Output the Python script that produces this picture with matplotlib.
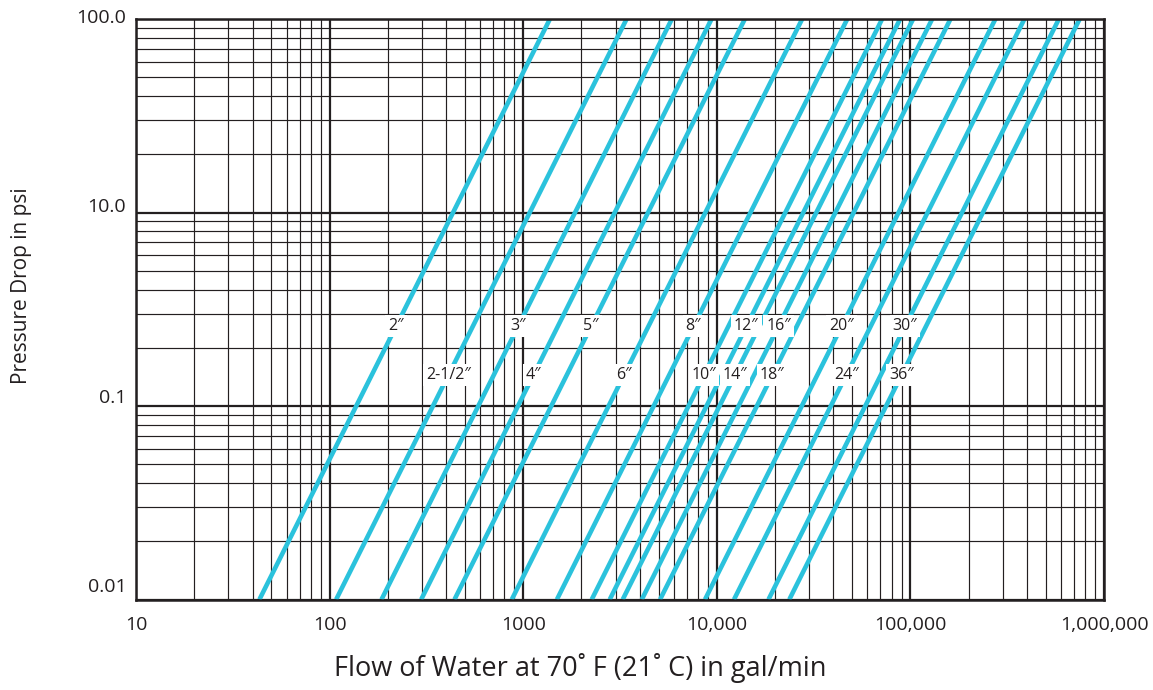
import numpy as np
import matplotlib
matplotlib.use("Agg")
import matplotlib.pyplot as plt
from matplotlib.ticker import FixedLocator, LogLocator, NullFormatter
from matplotlib.transforms import ScaledTranslation

plt.rcParams["font.family"] = ["Open Sans", "DejaVu Sans"]

# ---- data ----
pipe_sizes = ["2″", "2-1/2″", "3″", "4″", "5″", "6″", "8″", "10″",
              "12″", "14″", "16″", "18″", "20″", "24″", "30″", "36″"]
# flow (gal/min) where each line meets the bottom and the top of the chart
flow_at_bottom = [43.4, 108.1, 185.4, 297.2, 441.6, 873, 1493, 2259,
                  2799, 3266, 4098, 5093, 8690, 12270, 18490, 23690]
flow_at_top = [1374, 3420, 5861, 9397, 13964, 27610, 47210, 71450,
               88510, 103300, 129600, 161100, 274800, 388100, 584800, 749000]
dp_bottom = 0.1
dp_top = 100.0
# pressure-drop level at which each size label sits
label_dp = [2.58, 1.44, 2.58, 1.44, 2.58, 1.44, 2.58, 1.44,
            2.58, 1.44, 2.58, 1.44, 2.58, 1.44, 2.58, 1.44]

x_ticks = [10, 100, 1000, 10000, 100000, 1000000]
x_ticklabels = ["10", "100", "1000", "10,000", "100,000", "1,000,000"]
y_ticks = [0.1, 1, 10, 100]
y_ticklabels = ["0.01", "0.1", "10.0", "100.0"]

# ---- figure ----
W, H = 1153, 690
fig = plt.figure(figsize=(W / 100, H / 100), dpi=100)
ax = fig.add_axes([136 / W, 1 - 599.5 / H, (1104 - 136) / W, (599.5 - 19) / H])
ax.set_xscale("log")
ax.set_yscale("log")
ax.set_xlim(10, 1e6)
ax.set_ylim(0.1, 100)

ink = "#231f20"
cyan = "#2bc2dc"

ax.xaxis.set_minor_locator(LogLocator(base=10, subs=np.arange(2, 10), numticks=50))
ax.yaxis.set_minor_locator(LogLocator(base=10, subs=np.arange(2, 10), numticks=50))
ax.xaxis.set_minor_formatter(NullFormatter())
ax.yaxis.set_minor_formatter(NullFormatter())
ax.grid(which="major", color=ink, lw=1.6, zorder=1)
ax.grid(which="minor", color=ink, lw=0.85, zorder=1)
ax.set_axisbelow(True)

for qb, qt in zip(flow_at_bottom, flow_at_top):
    ax.plot([qb, qt], [dp_bottom, dp_top], color=cyan, lw=3.3,
            solid_capstyle="butt", zorder=3)

lb, lt = np.log10(dp_bottom), np.log10(dp_top)
for name, qb, qt, p in zip(pipe_sizes, flow_at_bottom, flow_at_top, label_dp):
    t = (np.log10(p) - lb) / (lt - lb)
    q = 10 ** (np.log10(qb) + t * (np.log10(qt) - np.log10(qb)))
    ax.text(q, p, name, ha="center", va="center", fontsize=11.5, color=ink,
            zorder=5, bbox=dict(boxstyle="square,pad=0.18", fc="white", ec="none"))

ax.xaxis.set_major_locator(FixedLocator(x_ticks))
ax.set_xticklabels(x_ticklabels)
ax.yaxis.set_major_locator(FixedLocator(y_ticks))
ax.set_yticklabels(y_ticklabels)
ax.tick_params(which="both", length=0, colors=ink, labelsize=14)
ax.tick_params(axis="x", pad=12)
ax.tick_params(axis="y", pad=7)

# labels sit a little above their grid lines, as in the reference
for lab, dy in zip(ax.get_yticklabels(), [15, 10, 7, 3]):
    lab.set_transform(lab.get_transform() + ScaledTranslation(0, dy / 100, fig.dpi_scale_trans))

for s in ax.spines.values():
    s.set_color(ink)
    s.set_linewidth(1.8)
    s.set_zorder(6)

fig.text(580 / W, 1 - 668 / H, "Flow of Water at 70˚ F (21˚ C) in gal/min",
         ha="center", va="center", fontsize=19.5, color=ink)
fig.text(22 / W, 1 - 286 / H, "Pressure Drop in psi", rotation=90,
         ha="center", va="center", fontsize=15, color=ink)

fig.savefig("out.png", dpi=100)
